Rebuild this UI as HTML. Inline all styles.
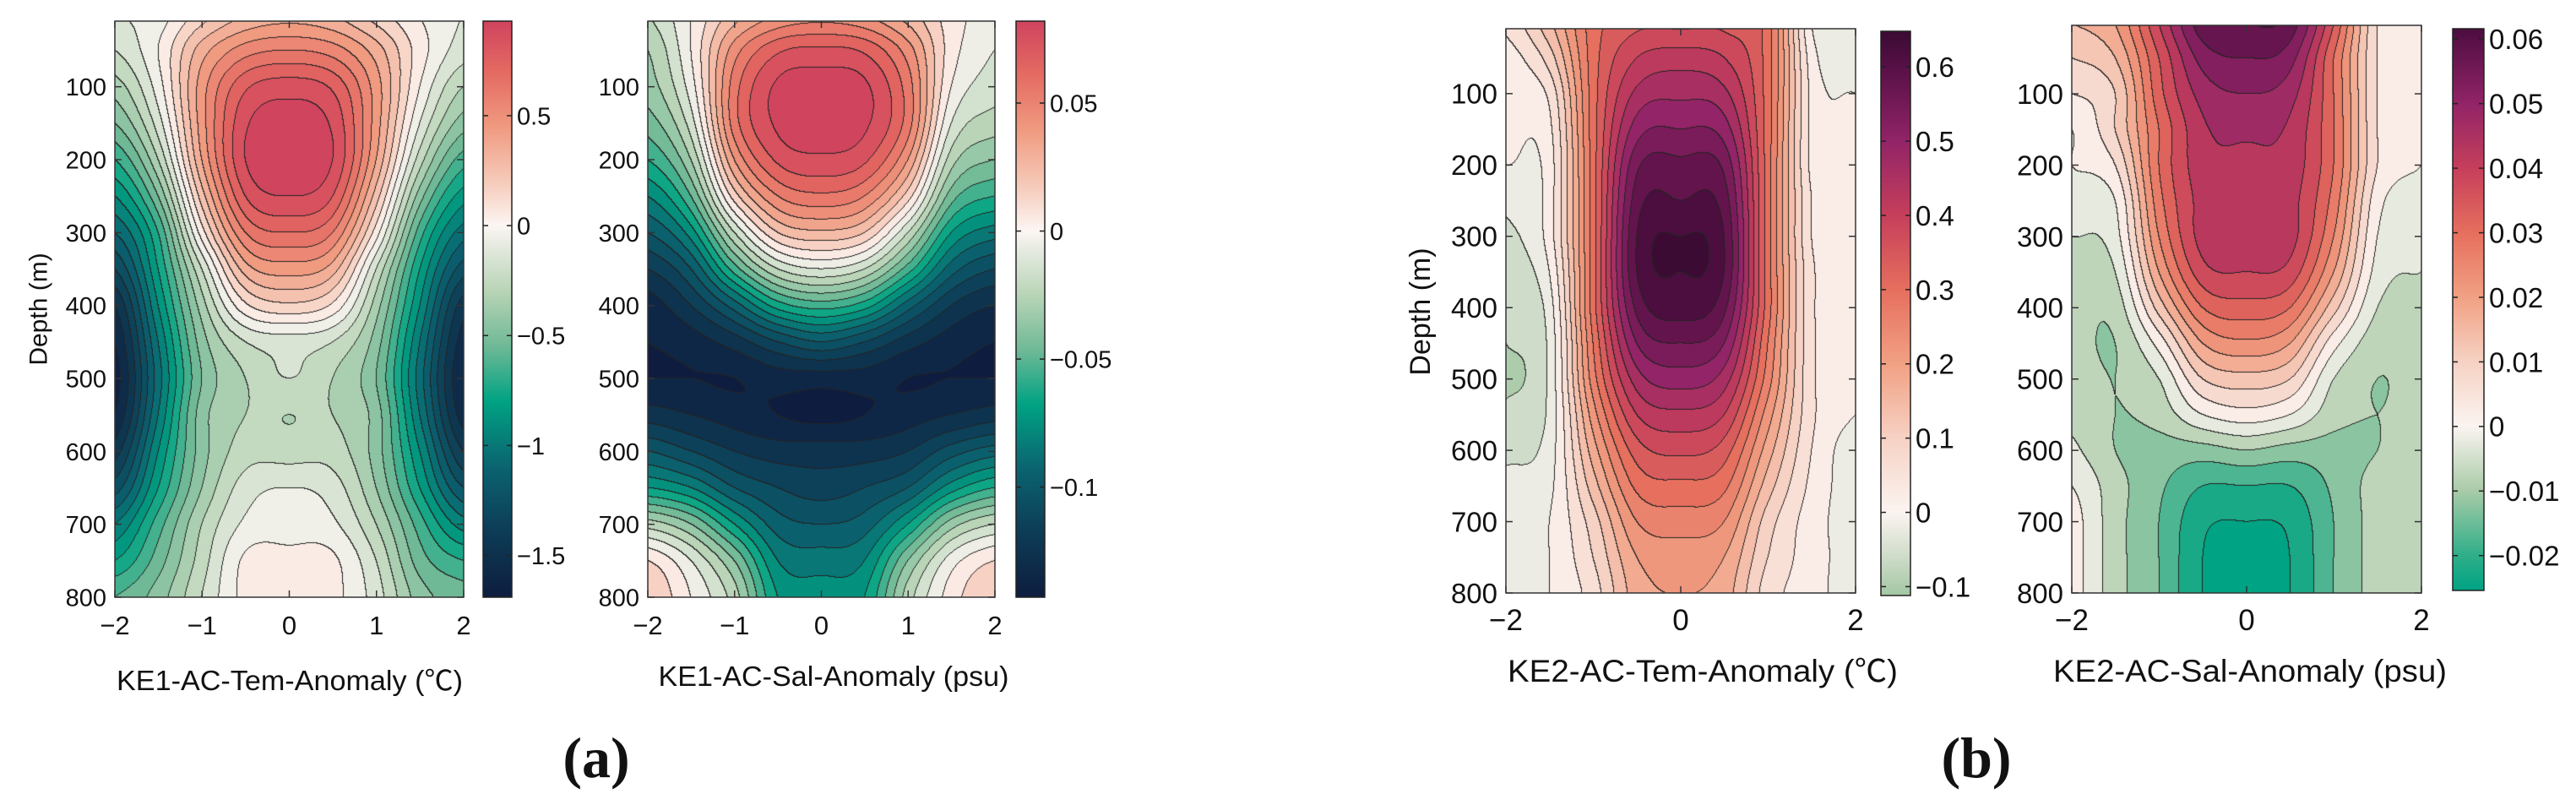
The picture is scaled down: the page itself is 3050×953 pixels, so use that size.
<!DOCTYPE html>
<html><head><meta charset="utf-8">
<style>
html,body{margin:0;padding:0;background:#fff;}
#root{position:relative;width:3050px;height:953px;overflow:hidden;font-family:"Liberation Sans","Noto Sans CJK SC",sans-serif;}
canvas{position:absolute;}
svg{position:absolute;left:0;top:0;}
</style></head>
<body>
<div id="root">
<canvas id="c1"></canvas>
<canvas id="c2"></canvas>
<canvas id="c3"></canvas>
<canvas id="c4"></canvas>
<canvas id="b1"></canvas>
<canvas id="b2"></canvas>
<canvas id="b3"></canvas>
<canvas id="b4"></canvas>
<svg id="ov" width="3050" height="953"></svg>
</div>
<script>
const xCoords=[-2,-1.5,-1,-0.5,0,0.5,1,1.5,2];
const depths=[0,50,100,150,200,250,300,350,400,450,500,550,600,650,700,750,800];
const tem1=[
[-0.1,-0.05,0.15,0.3,0.35,0.3,0.15,0,-0.1],
[-0.2,0,0.35,0.55,0.6,0.55,0.35,0.05,-0.15],
[-0.35,-0.05,0.45,0.78,0.85,0.78,0.45,0,-0.3],
[-0.5,-0.15,0.45,0.88,0.95,0.88,0.45,-0.1,-0.45],
[-0.7,-0.3,0.4,0.9,0.95,0.9,0.4,-0.25,-0.65],
[-0.9,-0.5,0.25,0.8,0.9,0.8,0.25,-0.45,-0.85],
[-1.1,-0.7,0.05,0.6,0.7,0.6,0.05,-0.65,-1.05],
[-1.3,-0.8,-0.2,0.35,0.45,0.35,-0.2,-0.8,-1.25],
[-1.5,-0.9,-0.35,0.08,0.18,0.08,-0.35,-0.9,-1.45],
[-1.6,-1.0,-0.45,-0.2,-0.15,-0.2,-0.45,-1.0,-1.55],
[-1.65,-1.05,-0.5,-0.3,-0.2,-0.3,-0.5,-1.05,-1.6],
[-1.6,-1.0,-0.45,-0.3,-0.3,-0.3,-0.45,-1.0,-1.55],
[-1.45,-0.9,-0.45,-0.25,-0.25,-0.25,-0.45,-0.9,-1.4],
[-1.25,-0.8,-0.4,-0.15,-0.1,-0.15,-0.4,-0.8,-1.2],
[-1.0,-0.65,-0.3,-0.08,-0.05,-0.08,-0.3,-0.65,-0.95],
[-0.8,-0.55,-0.25,0.02,0.03,0.02,-0.2,-0.55,-0.7],
[-0.6,-0.45,-0.2,0.03,0.04,0.03,-0.15,-0.45,-0.55]];
const sal1=[
[-0.02,0.0,0.025,0.04,0.045,0.04,0.025,0.005,-0.005],
[-0.03,0.0,0.045,0.068,0.072,0.068,0.045,0.005,-0.01],
[-0.035,-0.005,0.055,0.082,0.085,0.082,0.055,0.0,-0.015],
[-0.045,-0.015,0.055,0.082,0.085,0.082,0.055,-0.01,-0.025],
[-0.06,-0.03,0.04,0.072,0.078,0.072,0.04,-0.025,-0.04],
[-0.08,-0.05,0.015,0.05,0.058,0.05,0.015,-0.045,-0.06],
[-0.1,-0.075,-0.02,0.02,0.028,0.02,-0.02,-0.07,-0.085],
[-0.12,-0.1,-0.055,-0.02,-0.01,-0.02,-0.055,-0.095,-0.11],
[-0.135,-0.12,-0.095,-0.065,-0.055,-0.065,-0.095,-0.12,-0.13],
[-0.14,-0.135,-0.125,-0.11,-0.1,-0.11,-0.125,-0.135,-0.14],
[-0.14,-0.14,-0.14,-0.135,-0.135,-0.135,-0.14,-0.14,-0.14],
[-0.125,-0.13,-0.135,-0.14,-0.143,-0.14,-0.135,-0.13,-0.125],
[-0.1,-0.11,-0.12,-0.125,-0.125,-0.125,-0.12,-0.105,-0.095],
[-0.07,-0.08,-0.1,-0.11,-0.115,-0.11,-0.1,-0.075,-0.06],
[-0.025,-0.04,-0.07,-0.095,-0.1,-0.095,-0.07,-0.035,-0.02],
[0.01,-0.01,-0.04,-0.08,-0.085,-0.08,-0.04,-0.005,0.01],
[0.02,0.0,-0.025,-0.07,-0.075,-0.07,-0.025,0.005,0.02]];
const tem2=[
[0.05,0.15,0.3,0.35,0.35,0.35,0.3,0.0,-0.03],
[0.02,0.1,0.3,0.4,0.42,0.4,0.3,0.02,-0.03],
[0.01,0.05,0.3,0.45,0.47,0.45,0.3,0.03,0.0],
[0.01,0.03,0.3,0.5,0.52,0.5,0.3,0.03,0.01],
[0.0,0.02,0.3,0.55,0.57,0.55,0.3,0.03,0.01],
[-0.03,0.02,0.3,0.58,0.6,0.58,0.3,0.04,0.01],
[-0.05,0.02,0.3,0.6,0.64,0.6,0.3,0.04,0.02],
[-0.06,0.0,0.3,0.6,0.64,0.6,0.3,0.05,0.02],
[-0.07,-0.02,0.3,0.57,0.62,0.57,0.3,0.05,0.02],
[-0.08,-0.03,0.28,0.52,0.56,0.52,0.28,0.05,0.02],
[-0.09,-0.03,0.26,0.46,0.5,0.46,0.26,0.05,0.01],
[-0.07,-0.03,0.22,0.4,0.43,0.4,0.22,0.05,0.0],
[-0.05,-0.02,0.18,0.34,0.37,0.34,0.18,0.04,-0.02],
[-0.03,-0.01,0.14,0.29,0.31,0.29,0.14,0.03,-0.02],
[-0.03,0.0,0.1,0.24,0.26,0.24,0.1,0.02,-0.02],
[-0.03,0.0,0.08,0.2,0.22,0.2,0.08,0.02,-0.02],
[-0.03,0.0,0.06,0.18,0.2,0.18,0.06,0.02,-0.03]];
const sal2=[
[0.015,0.02,0.04,0.058,0.06,0.058,0.035,0.005,0.0],
[0.01,0.015,0.035,0.052,0.055,0.052,0.03,0.005,0.0],
[0.005,0.01,0.033,0.047,0.05,0.047,0.03,0.005,0.0],
[0.0,0.01,0.03,0.044,0.046,0.044,0.03,0.005,0.0],
[0.0,0.005,0.03,0.043,0.044,0.043,0.03,0.005,0.0],
[-0.002,0.0,0.028,0.042,0.045,0.042,0.028,0.002,-0.002],
[-0.005,-0.002,0.025,0.042,0.044,0.042,0.025,0.0,-0.003],
[-0.007,-0.005,0.02,0.038,0.04,0.038,0.02,-0.002,-0.005],
[-0.008,-0.008,0.012,0.03,0.033,0.03,0.012,-0.005,-0.006],
[-0.008,-0.01,0.002,0.02,0.024,0.02,0.002,-0.008,-0.007],
[-0.007,-0.01,-0.005,0.01,0.013,0.01,-0.005,-0.01,-0.008],
[-0.006,-0.01,-0.008,0.0,0.003,0.0,-0.008,-0.01,-0.008],
[-0.004,-0.01,-0.012,-0.012,-0.01,-0.012,-0.012,-0.01,-0.007],
[0.0,-0.008,-0.014,-0.02,-0.02,-0.02,-0.014,-0.008,-0.006],
[0.002,-0.008,-0.015,-0.024,-0.025,-0.024,-0.015,-0.008,-0.006],
[0.002,-0.008,-0.015,-0.025,-0.025,-0.025,-0.015,-0.008,-0.006],
[0.002,-0.008,-0.015,-0.025,-0.025,-0.025,-0.015,-0.008,-0.006]];
const depthTicks=[100,200,300,400,500,600,700,800];
const xTicksA=[-2,-1,0,1,2];
const xTicksB=[-2,0,2];
const cbTicks1=[0.5,0,-0.5,-1,-1.5];
const cbTicks2=[0.05,0,-0.05,-0.1];
const cbTicks3=[0.6,0.5,0.4,0.3,0.2,0.1,0,-0.1];
const cbTicks4=[0.06,0.05,0.04,0.03,0.02,0.01,0,-0.01,-0.02];

function hex(h){return [parseInt(h.slice(1,3),16),parseInt(h.slice(3,5),16),parseInt(h.slice(5,7),16)];}
const stopsA1=[[-1.69,'#0e1d3f'],[-1.4,'#0d3b55'],[-1.1,'#0b6370'],[-0.8,'#00a383'],[-0.55,'#6fb996'],[-0.3,'#b8d4b6'],[-0.1,'#e4e9df'],[0,'#fcf6f3'],[0.19,'#f6cdbd'],[0.45,'#f09a80'],[0.7,'#e46a62'],[0.93,'#d0445e']];
const stopsA2=stopsA1.map(s=>[s[0]<0?s[0]/1.69*0.143:s[0]/0.93*0.082,s[1]]);
const stopsB1=[[-0.112,'#a3c7a3'],[-0.06,'#cfdcc9'],[0,'#fbf4f1'],[0.1,'#f6d2c4'],[0.2,'#f1a184'],[0.3,'#e66f5e'],[0.4,'#c63f5b'],[0.5,'#922467'],[0.6,'#571046'],[0.648,'#3b0b33']];
const stopsB2=[[-0.0254,'#00a383'],[-0.02,'#2fae89'],[-0.01,'#a9cba8'],[0,'#fbf4f1'],[0.01,'#f6d2c4'],[0.02,'#f1a184'],[0.03,'#e66f5e'],[0.04,'#c63f5b'],[0.05,'#922467'],[0.06,'#571046'],[0.0616,'#4a0d3e']];
function cmap(stops,v){
 if(v<=stops[0][0])return hex(stops[0][1]);
 for(let i=1;i<stops.length;i++){if(v<=stops[i][0]){const a=stops[i-1],b=stops[i];const t=(v-a[0])/(b[0]-a[0]);const ca=hex(a[1]),cb=hex(b[1]);return [ca[0]+(cb[0]-ca[0])*t,ca[1]+(cb[1]-ca[1])*t,ca[2]+(cb[2]-ca[2])*t];}}
 return hex(stops[stops.length-1][1]);
}
function cr(p0,p1,p2,p3,t){return 0.5*((2*p1)+(-p0+p2)*t+(2*p0-5*p1+4*p2-p3)*t*t+(-p0+3*p1-3*p2+p3)*t*t*t);}
function sample(g,x,d){
 const nx=xCoords.length,ny=depths.length;
 let fx=(x-xCoords[0])/(xCoords[1]-xCoords[0]),fy=(d-depths[0])/(depths[1]-depths[0]);
 fx=Math.max(0,Math.min(nx-1.0001,fx));fy=Math.max(0,Math.min(ny-1.0001,fy));
 const ix=Math.floor(fx),iy=Math.floor(fy),tx=fx-ix,ty=fy-iy;
 const gv=(i,j)=>g[Math.max(0,Math.min(ny-1,j))][Math.max(0,Math.min(nx-1,i))];
 const r=[];for(let j=-1;j<3;j++){r.push(cr(gv(ix-1,iy+j),gv(ix,iy+j),gv(ix+1,iy+j),gv(ix+2,iy+j),tx));}
 return cr(r[0],r[1],r[2],r[3],ty);
}
const plots=[
 {c:'c1',b:'b1',g:tem1,st:stopsA1,step:0.1,L:136,T:25,R:549,B:707,dTop:10,vmin:-1.69,vmax:0.93,bx:572,bw:34,bT:25,bB:707,ct:cbTicks1,xt:xTicksA,fs:29,lab:'KE1-AC-Tem-Anomaly (℃)',lx:343,ly:805,lw:410,ylab:true,yx:45,yy:366},
 {c:'c2',b:'b2',g:sal1,st:stopsA2,step:0.01,L:767,T:25,R:1178,B:707,dTop:10,vmin:-0.143,vmax:0.082,bx:1203,bw:34,bT:25,bB:707,ct:cbTicks2,xt:xTicksA,fs:29,lab:'KE1-AC-Sal-Anomaly (psu)',lx:987,ly:800,lw:415,ylab:false},
 {c:'c3',b:'b3',g:tem2,st:stopsB1,step:0.04,L:1783,T:34,R:2197,B:702,dTop:9,vmin:-0.112,vmax:0.648,bx:2227,bw:35,bT:37,bB:705,ct:cbTicks3,xt:xTicksB,fs:33,lab:'KE2-AC-Tem-Anomaly (℃)',lx:2016,ly:795,lw:462,ylab:true,yx:1681,yy:369},
 {c:'c4',b:'b4',g:sal2,st:stopsB2,step:0.005,L:2453,T:30,R:2867,B:702,dTop:4,vmin:-0.0254,vmax:0.0616,bx:2904,bw:37,bT:34,bB:699,ct:cbTicks4,xt:xTicksB,fs:33,lab:'KE2-AC-Sal-Anomaly (psu)',lx:2664,ly:795,lw:466,ylab:false}
];
const NS='http://www.w3.org/2000/svg';const ov=document.getElementById('ov');
function el(tag,attrs,txt){const e=document.createElementNS(NS,tag);for(const k in attrs)e.setAttribute(k,attrs[k]);if(txt!==undefined)e.textContent=txt;ov.appendChild(e);return e;}
function fmt(v){return (v<0?'\u2212':'')+String(Math.abs(v));}
plots.forEach((p,pi)=>{
 const W=p.R-p.L,H=p.B-p.T;
 const cv=document.getElementById(p.c);cv.width=W;cv.height=H;cv.style.left=p.L+'px';cv.style.top=p.T+'px';
 const ctx=cv.getContext('2d');const img=ctx.createImageData(W,H);
 const idx=new Int32Array(W*H);
 const xS=v=>(v-(-2))/4*W, dS=d=>(d-p.dTop)/(800-p.dTop)*H;
 for(let j=0;j<H;j++){const d=p.dTop+(j+0.5)/H*(800-p.dTop);for(let i=0;i<W;i++){const x=-2+(i+0.5)/W*4;const v=sample(p.g,x,d);idx[j*W+i]=Math.floor(v/p.step);}}
 for(let j=0;j<H;j++)for(let i=0;i<W;i++){const k=j*W+i;let vv=(idx[k]+0.5)*p.step;vv=Math.max(p.vmin,Math.min(p.vmax,vv));let c=cmap(p.st,vv);
  const e=(i<W-1&&idx[k]!==idx[k+1])||(j<H-1&&idx[k]!==idx[k+W]);
  if(e)c=[35,35,35];img.data[k*4]=c[0];img.data[k*4+1]=c[1];img.data[k*4+2]=c[2];img.data[k*4+3]=255;}
 ctx.putImageData(img,0,0);
 const bc=document.getElementById(p.b);const bh=p.bB-p.bT;bc.width=p.bw;bc.height=bh;bc.style.left=p.bx+'px';bc.style.top=p.bT+'px';
 const bctx=bc.getContext('2d');
 for(let j=0;j<bh;j++){const v=p.vmax-(j+0.5)/bh*(p.vmax-p.vmin);const c=cmap(p.st,v);bctx.fillStyle='rgb('+c.map(Math.round).join(',')+')';bctx.fillRect(0,j,p.bw,1);}
 el('rect',{x:p.bx,y:p.bT,width:p.bw,height:bh,fill:'none',stroke:'#222','stroke-width':1.5,});
 p.ct.forEach(v=>{const y=p.bT+(p.vmax-v)/(p.vmax-p.vmin)*bh;
  el('line',{x1:p.bx,x2:p.bx+6,y1:y,y2:y,stroke:'#222','stroke-width':1.5});
  el('line',{x1:p.bx+p.bw-6,x2:p.bx+p.bw,y1:y,y2:y,stroke:'#222','stroke-width':1.5});
  const t=el('text',{x:p.bx+p.bw+6,y:y+p.fs*0.36,'font-size':p.fs,fill:'#111'},fmt(v));
  });
 el('rect',{x:p.L,y:p.T,width:W,height:H,fill:'none',stroke:'#333','stroke-width':1.5,});
 depthTicks.forEach(d=>{const y=p.T+dS(d);
  el('line',{x1:p.L,x2:p.L+8,y1:y,y2:y,stroke:'#333','stroke-width':1.5});
  el('line',{x1:p.R-8,x2:p.R,y1:y,y2:y,stroke:'#333','stroke-width':1.5});
  const t=el('text',{x:p.L-10,y:y+p.fs*0.36,'font-size':p.fs,'text-anchor':'end',fill:'#111'},String(d));
  });
 p.xt.forEach(v=>{const x=p.L+xS(v);
  el('line',{x1:x,x2:x,y1:p.B,y2:p.B-8,stroke:'#333','stroke-width':1.5});
  el('line',{x1:x,x2:x,y1:p.T,y2:p.T+8,stroke:'#333','stroke-width':1.5});
  const t=el('text',{x:x,y:p.B+44,'font-size':p.fs+2,'text-anchor':'middle',fill:'#111'},fmt(v));
  });
 const xl=el('text',{x:p.lx,y:p.ly+12,'font-size':p.fs+4,'text-anchor':'middle',textLength:p.lw,lengthAdjust:'spacingAndGlyphs',fill:'#111'},p.lab);
 
 if(p.ylab){const yl=el('text',{x:p.yx,y:p.yy,'font-size':p.fs+1,'text-anchor':'middle',transform:'rotate(-90 '+p.yx+' '+p.yy+')',dy:'0.35em',fill:'#111'},'Depth (m)');
  }
});
const pa=el('text',{x:706,y:920,'font-size':68,'font-weight':'bold','text-anchor':'middle','font-family':'Liberation Serif, serif',fill:'#111'},'(a)');

const pb=el('text',{x:2340,y:920,'font-size':68,'font-weight':'bold','text-anchor':'middle','font-family':'Liberation Serif, serif',fill:'#111'},'(b)');

</script>
</body></html>
